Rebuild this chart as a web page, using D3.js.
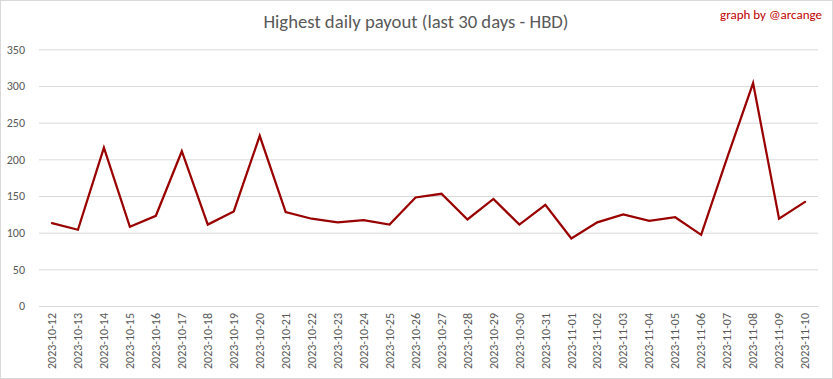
<!DOCTYPE html>
<html><head><meta charset="utf-8">
<script src="https://cdn.jsdelivr.net/npm/d3@7"></script>
<style>
html,body{margin:0;padding:0;background:#fff;}
svg{display:block;font-family:Carlito,"Liberation Sans Narrow","Liberation Sans",sans-serif;}
</style></head>
<body><svg id="chart" width="833" height="379"></svg>
<script>
const dates = ["2023-10-12","2023-10-13","2023-10-14","2023-10-15","2023-10-16","2023-10-17","2023-10-18","2023-10-19","2023-10-20","2023-10-21","2023-10-22","2023-10-23","2023-10-24","2023-10-25","2023-10-26","2023-10-27","2023-10-28","2023-10-29","2023-10-30","2023-10-31","2023-11-01","2023-11-02","2023-11-03","2023-11-04","2023-11-05","2023-11-06","2023-11-07","2023-11-08","2023-11-09","2023-11-10"];
const payouts = [113,104,216,108,123,211,111,129,232,128,119,114,117,111,148,153,118,146,111,138,92,114,125,116,121,97,202,304,119,142];
const yTicks = [0,50,100,150,200,250,300,350];
const titleText = "Highest daily payout (last 30 days - HBD)";
const creditText = "graph by @arcange";

const W = 833, H = 379;
const svg = d3.select("#chart");
svg.append("rect").attr("x",0.5).attr("y",0.5).attr("width",W-1).attr("height",H-1)
  .attr("fill","#fff").attr("stroke","#d9d9d9");

const x = d3.scaleBand().domain(dates).range([39,818]);
const y = d3.scaleLinear().domain([0,350]).range([306,49.3]);

// gridlines
const yAxis = d3.axisLeft(y).tickValues(yTicks).tickSize(-(818-39)).tickPadding(14);
const gy = svg.append("g").attr("transform","translate(39,0)").call(yAxis);
gy.select(".domain").remove();
gy.selectAll(".tick line").attr("stroke","#d9d9d9").attr("stroke-width",1);
gy.selectAll(".tick text").attr("fill","#595959").attr("font-size",12)
  .attr("font-family","Carlito,'Liberation Sans Narrow','Liberation Sans',sans-serif");

// x axis
const xAxis = d3.axisBottom(x).tickSize(0).tickPadding(0);
const gx = svg.append("g").attr("transform","translate(0,306)").call(xAxis);
gx.select(".domain").attr("stroke","#d9d9d9");
gx.selectAll(".tick text")
  .attr("fill","#595959").attr("font-size",12)
  .attr("font-family","Carlito,'Liberation Sans Narrow','Liberation Sans',sans-serif")
  .attr("text-anchor","end").attr("dy","0.35em")
  .attr("transform","translate(0,7) rotate(-90)");

// line
const line = d3.line().x((d,i)=>x(dates[i])+x.bandwidth()/2).y(d=>y(d));
svg.append("path").datum(payouts).attr("d",line)
  .attr("fill","none").attr("stroke","#990000").attr("stroke-width",2.25)
  .attr("stroke-linejoin","miter").attr("stroke-linecap","round");

// title
svg.append("text").attr("x",416).attr("y",28).attr("text-anchor","middle")
  .attr("fill","#595959").attr("font-size",18.7).text(titleText);
svg.append("text").attr("x",822).attr("y",19).attr("text-anchor","end")
  .attr("fill","#c00000").attr("font-size",13).text(creditText);
</script></body></html>
